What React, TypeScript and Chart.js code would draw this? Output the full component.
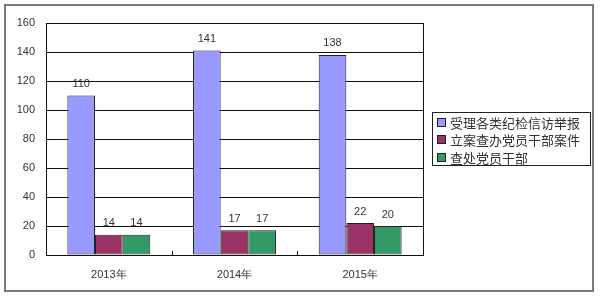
import React, { useEffect, useRef } from "react";
import { Chart, registerables } from "chart.js";

Chart.register(...registerables);

const categories = ["2013年", "2014年", "2015年"];
const seriesNames = ["受理各类纪检信访举报", "立案查办党员干部案件", "查处党员干部"];
const letters = [110, 141, 138];
const cases = [14, 17, 22];
const punished = [14, 17, 20];
const colors = ["#9999FF", "#993366", "#339966"];

const framePlugin = {
  id: "frame",
  beforeDraw(chart: any) {
    const ctx = chart.ctx;
    ctx.save();
    ctx.fillStyle = "#ffffff";
    ctx.fillRect(0, 0, chart.width, chart.height);
    ctx.strokeStyle = "#7a7a7a";
    ctx.lineWidth = 2;
    ctx.strokeRect(5, 5, 588, 286);
    ctx.restore();
  },
  afterDraw(chart: any) {
    const ctx = chart.ctx;
    const a = chart.chartArea;
    ctx.save();
    // chart area border
    ctx.strokeStyle = "#111";
    ctx.lineWidth = 1;
    ctx.strokeRect(Math.round(a.left) + 0.5, Math.round(a.top) + 0.5, Math.round(a.right - a.left), Math.round(a.bottom - a.top));
    // inward category tick marks between categories
    const n = chart.data.labels.length;
    const step = (a.right - a.left) / n;
    ctx.beginPath();
    for (let i = 1; i < n; i++) {
      const x = Math.round(a.left + step * i) + 0.5;
      ctx.moveTo(x, a.bottom);
      ctx.lineTo(x, a.bottom - 4);
    }
    ctx.stroke();
    // data labels
    ctx.fillStyle = "#333";
    ctx.font = "11px 'Liberation Sans'";
    ctx.textAlign = "center";
    ctx.textBaseline = "bottom";
    chart.data.datasets.forEach((ds: any, i: number) => {
      const meta = chart.getDatasetMeta(i);
      meta.data.forEach((bar: any, j: number) => {
        ctx.fillText(String(ds.data[j]), bar.x, bar.y - 6);
      });
    });
    // legend
    const lx = 432, ly = 112, lw = 158, lh = 53;
    ctx.strokeStyle = "#222";
    ctx.strokeRect(lx + 0.5, ly + 0.5, lw, lh);
    ctx.font = "13px 'Noto Sans CJK SC'";
    ctx.textAlign = "left";
    ctx.textBaseline = "middle";
    chart.data.datasets.forEach((ds: any, i: number) => {
      const cy = ly + 11 + i * 17.3;
      ctx.fillStyle = ds.backgroundColor;
      ctx.fillRect(438, Math.round(cy - 4), 7, 7);
      ctx.strokeStyle = "#222";
      ctx.strokeRect(437.5, Math.round(cy - 4) - 0.5, 8, 8);
      ctx.fillStyle = "#333";
      ctx.fillText(ds.label, 450, cy);
    });
    ctx.restore();
  },
};

export default function App() {
  const ref = useRef<HTMLCanvasElement>(null);
  useEffect(() => {
    const values = [letters, cases, punished];
    const chart = new Chart(ref.current as HTMLCanvasElement, {
      type: "bar",
      data: {
        labels: categories,
        datasets: seriesNames.map((name, i) => ({
          label: name,
          data: values[i],
          backgroundColor: colors[i],
          borderColor: "#222",
          borderWidth: 1,
          borderSkipped: false,
          categoryPercentage: 0.66,
          barPercentage: 1,
        })),
      },
      options: {
        animation: false,
        responsive: false,
        maintainAspectRatio: false,
        layout: { padding: { left: 0, right: 177, top: 23, bottom: 0 } },
        plugins: { legend: { display: false }, tooltip: { enabled: false } },
        scales: {
          x: {
            grid: { display: false },
            border: { display: false },
            ticks: { color: "#333", font: { family: "Liberation Sans", size: 11 }, padding: 5 },
            afterFit: (s: any) => { s.height = 43; },
          },
          y: {
            min: 0,
            max: 160,
            grid: { color: "#111", drawTicks: false },
            border: { display: false },
            ticks: { stepSize: 20, color: "#333", font: { family: "Liberation Sans", size: 11 }, padding: 11 },
            afterFit: (s: any) => { s.width = 46; },
          },
        },
      },
      plugins: [framePlugin],
    });
    return () => chart.destroy();
  }, []);
  return (
    <div style={{ position: "fixed", left: 0, top: 0, width: 600, height: 298 }}>
      <canvas ref={ref} width={600} height={298} style={{ width: 600, height: 298 }} />
    </div>
  );
}
